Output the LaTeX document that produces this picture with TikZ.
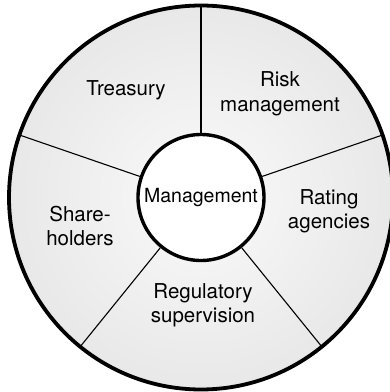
\documentclass[tikz,border=0pt]{standalone}
\usepackage{fontspec}
\setmainfont{TeX Gyre Heros}
\usetikzlibrary{positioning}
\pgfdeclareradialshading{ringshade}{\pgfpoint{0bp}{0bp}}{color(0bp)=(gray!4); color(50bp)=(gray!32)}

\begin{document}
\begin{tikzpicture}[x=1pt, y=1pt,
  sector/.style={font=\fontsize{20.5}{24.5}\selectfont, align=center, inner sep=0pt},
  spoke/.style={line width=1.1pt},
  rim/.style={line width=3.8pt}]
\useasboundingbox (-201,-194.5) rectangle (189,197.5);

% Shaded disc
\shade[shading=ringshade] (0,0) circle (192);

% Centre
\node[circle, draw, rim, line width=3.4pt, fill=white, minimum size=126, inner sep=0pt,
  font=\fontsize{19.5}{24}\selectfont] (mgmt) at (0,0) {Management};

% Spokes
\foreach \a in {90,19,-51,-129,161} {
  \coordinate (rim\a) at (\a:192);
  \draw[spoke] (mgmt.\a) -- (rim\a);
}

% Outer ring
\draw[rim] (0,0) circle (192);

% Sector labels
\node[sector] (treasury) at (-75,107.5) {Treasury};
\node[sector] (risk) at (79,103.5) {Risk\\management};
\node[sector] (rating) at (128,-14) {Rating\\agencies};
\node[sector] (share) at (-121,-28.5) {Share-\\holders};
\node[sector] (regul) at (2,-108) {Regulatory\\supervision};
\end{tikzpicture}
\end{document}
